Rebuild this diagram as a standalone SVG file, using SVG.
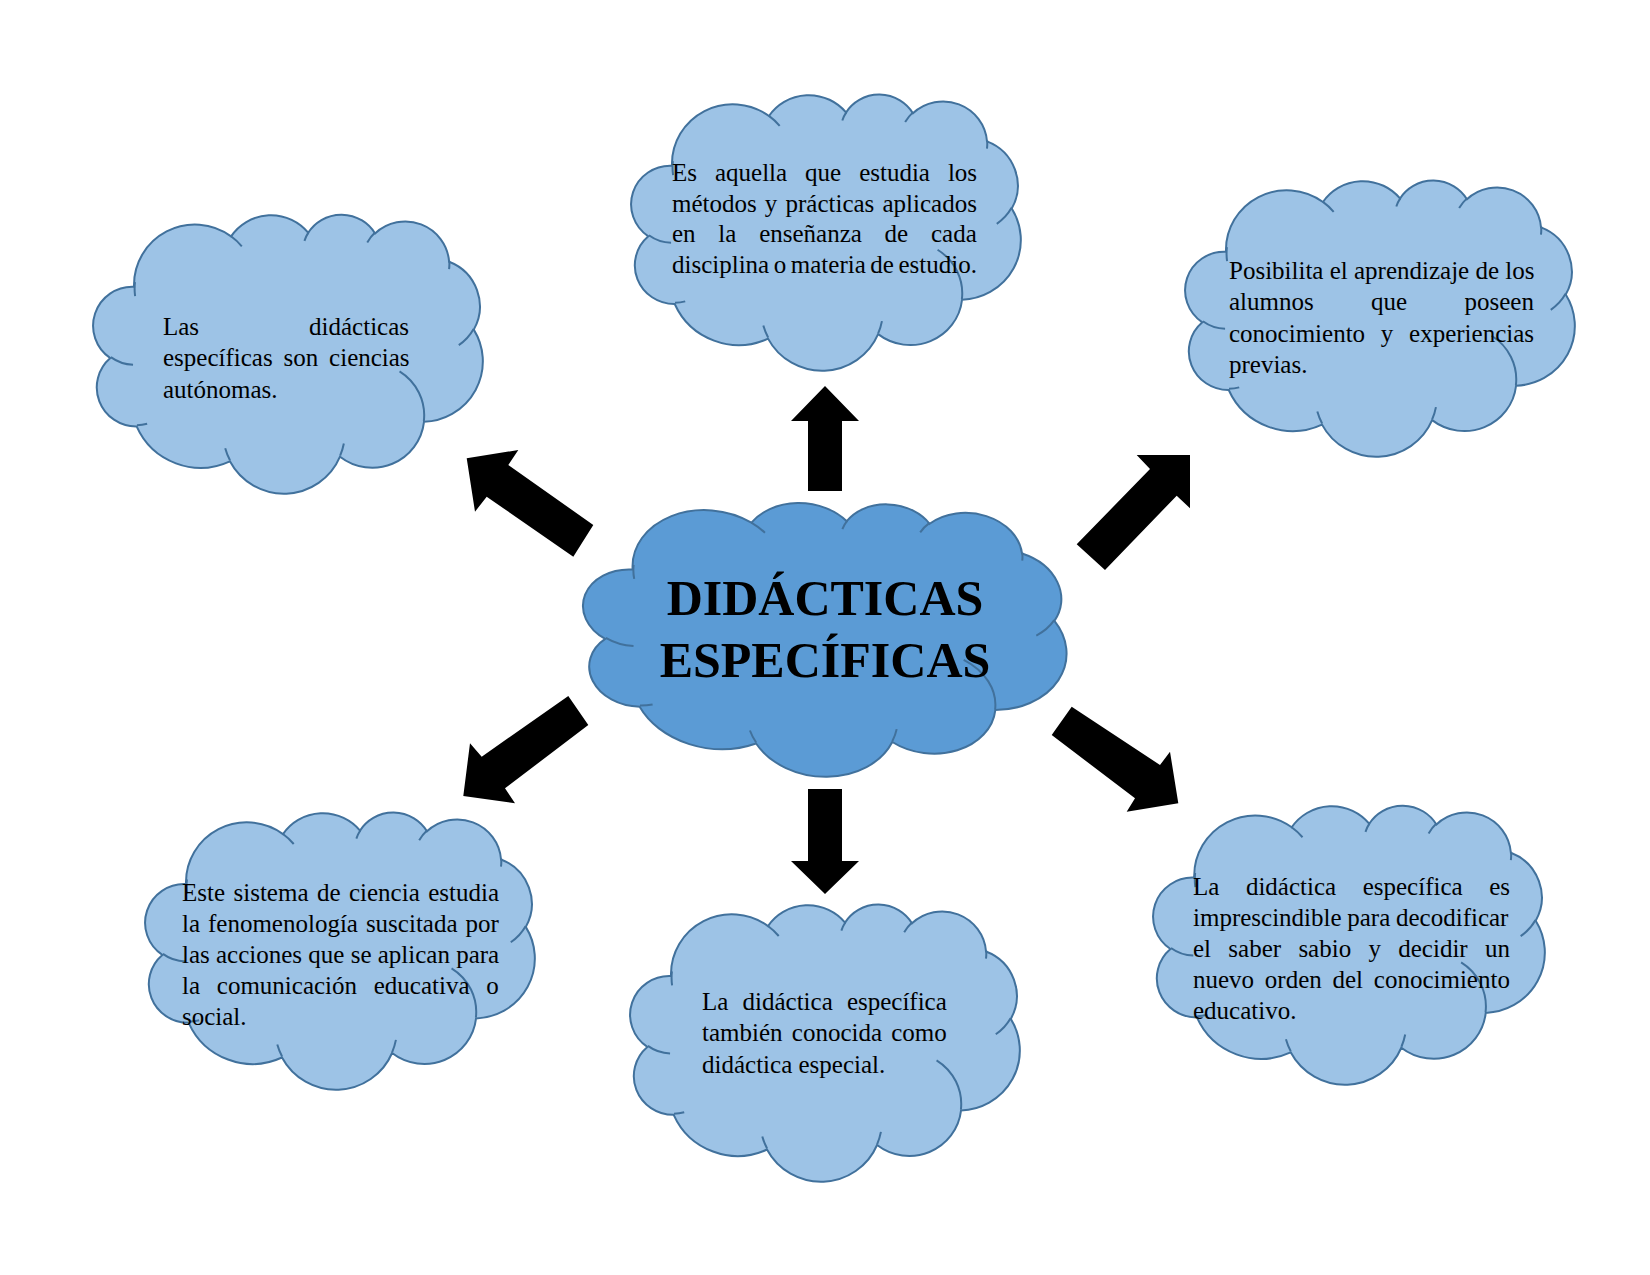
<svg xmlns="http://www.w3.org/2000/svg" width="1650" height="1275" viewBox="0 0 1650 1275">
<style>
.shape{stroke:#41719C;stroke-width:2;}
.outer{fill:#9DC3E6;}
.main{fill:#5B9BD5;}
.arcs{fill:none;stroke:#41719C;stroke-width:2;}
.txt{font-family:"Liberation Serif","Times New Roman",serif;font-size:25px;fill:#000;}
.title{font-family:"Liberation Serif","Times New Roman",serif;font-size:50px;font-weight:bold;fill:#000;text-anchor:middle;}
.arrow{fill:#000;}
</style>
<defs>
<path id="cloud" vector-effect="non-scaling-stroke" d="M90.3,332.6 A156.3,212.7 0 0 1 324.2,120.4 A123.4,168.2 0 0 1 519.8,79.4 A101.0,137.6 0 0 1 690.6,57.4 A112.4,152.7 0 0 1 887.0,129.1 A123.4,168.4 0 0 1 968.1,357.8 A156.8,213.4 0 0 1 865.9,699.1 A133.9,182.1 0 0 1 661.0,852.1 A156.3,213.3 0 0 1 381.5,908.8 A178.7,244.1 0 0 1 134.3,821.0 A100.9,137.0 0 0 1 48.9,591.3 A100.6,137.6 0 0 1 90.3,332.6 Z"/>
<path id="cloudArcs" vector-effect="non-scaling-stroke" fill="none" d="M108.6,605.9 A100.6,137.6 0 0 1 50.0,587.5 M160.4,807.9 A100.9,137.0 0 0 1 134.7,816.7 M381.4,904.9 A156.3,213.3 0 0 1 366.0,864.5 M667.3,804.4 A156.3,213.3 0 0 1 661.1,848.6 M790.0,531.3 A133.9,182.1 0 0 1 865.3,696.5 M967.5,355.4 A123.4,168.4 0 0 1 934.0,417.4 M887.1,125.6 A112.4,152.7 0 0 1 888.9,154.8 M673.1,91.5 A112.4,152.7 0 0 1 690.3,54.2 M512.5,109.3 A101.0,137.6 0 0 1 520.8,77.1 M324.1,120.2 A156.3,212.7 0 0 1 354.2,151.4 M95.5,365.5 A156.3,212.7 0 0 1 91.3,316.0"/>
</defs>
<rect width="1650" height="1275" fill="#FFFFFF"/>

<g id="connectors">
<polygon class="arrow" points="825,386 859,421 842,421 842,491 808,491 808,421 791,421"/>
<polygon class="arrow" points="825,894 859,861 842,861 842,789 808,789 808,861 791,861"/>
<polygon class="arrow" points="466.7,458.3 518.3,450 508.3,465 593.3,525 573.3,556.7 486.7,496.7 475,511.7"/>
<polygon class="arrow" points="1190,455 1190,508.3 1176.7,495.7 1105,570 1076.7,544.3 1150,469 1136.7,455"/>
<polygon class="arrow" points="463.3,796 470,743.3 481.7,756.7 568.3,696 588.3,725 505,788.3 515,803.3"/>
<polygon class="arrow" points="1178.3,803.3 1170,751.7 1160,765 1071.7,706.7 1051.7,735 1135,798.3 1126.7,811.7"/>
</g>

<g id="node-center">
<g transform="translate(825,636.5) rotate(6) scale(0.484,0.278) translate(-500,-500)"><use href="#cloud" class="shape main"/><use href="#cloudArcs" class="arcs"/></g>
<text class="title" x="825" y="614.5">DIDÁCTICAS</text>
<text class="title" x="825" y="676.5">ESPECÍFICAS</text>
</g>

<g id="node-top">
<g transform="translate(826,229.2) rotate(6) scale(0.39,0.281) translate(-500,-500)"><use href="#cloud" class="shape outer"/><use href="#cloudArcs" class="arcs"/></g>
<text class="txt" x="672" y="181" style="word-spacing:11.7px">Es aquella que estudia los</text>
<text class="txt" x="672" y="211.5" style="word-spacing:1.9px">métodos y prácticas aplicados</text>
<text class="txt" x="672" y="242" style="word-spacing:16.5px">en la enseñanza de cada</text>
<text class="txt" x="672" y="272.5" style="word-spacing:-1.7px">disciplina o materia de estudio.</text>
</g>

<g id="node-top-left">
<g transform="translate(288,350.7) rotate(6) scale(0.39,0.284) translate(-500,-500)"><use href="#cloud" class="shape outer"/><use href="#cloudArcs" class="arcs"/></g>
<text class="txt" x="163" y="335">Las</text>
<text class="txt" x="409" y="335" text-anchor="end">didácticas</text>
<text class="txt" x="163" y="366" style="word-spacing:4.6px">específicas son ciencias</text>
<text class="txt" x="163" y="397.5">autónomas.</text>
</g>

<g id="node-top-right">
<g transform="translate(1380,315.2) rotate(6) scale(0.39,0.281) translate(-500,-500)"><use href="#cloud" class="shape outer"/><use href="#cloudArcs" class="arcs"/></g>
<text class="txt" x="1229" y="278.7" style="word-spacing:0px">Posibilita el aprendizaje de los</text>
<text class="txt" x="1229" y="310.2" style="word-spacing:51.1px">alumnos que poseen</text>
<text class="txt" x="1229" y="341.7" style="word-spacing:9.5px">conocimiento y experiencias</text>
<text class="txt" x="1229" y="373.2">previas.</text>
</g>

<g id="node-bottom-left">
<g transform="translate(340,947.7) rotate(6) scale(0.39,0.282) translate(-500,-500)"><use href="#cloud" class="shape outer"/><use href="#cloudArcs" class="arcs"/></g>
<text class="txt" x="182" y="901.2" style="word-spacing:2.2px">Este sistema de ciencia estudia</text>
<text class="txt" x="182" y="932.2" style="word-spacing:1.7px">la fenomenología suscitada por</text>
<text class="txt" x="182" y="963.2" style="word-spacing:0px">las acciones que se aplican para</text>
<text class="txt" x="182" y="994.2" style="word-spacing:10.5px">la comunicación educativa o</text>
<text class="txt" x="182" y="1025.2">social.</text>
</g>

<g id="node-bottom-center">
<g transform="translate(825,1039.7) rotate(6) scale(0.39,0.282) translate(-500,-500)"><use href="#cloud" class="shape outer"/><use href="#cloudArcs" class="arcs"/></g>
<text class="txt" x="702" y="1009.5" style="word-spacing:7.9px">La didáctica específica</text>
<text class="txt" x="702" y="1041" style="word-spacing:3px">también conocida como</text>
<text class="txt" x="702" y="1072.5">didáctica especial.</text>
</g>

<g id="node-bottom-right">
<g transform="translate(1349,941.7) rotate(6) scale(0.392,0.284) translate(-500,-500)"><use href="#cloud" class="shape outer"/><use href="#cloudArcs" class="arcs"/></g>
<text class="txt" x="1193" y="895" style="word-spacing:20.3px">La didáctica específica es</text>
<text class="txt" x="1193" y="926" style="word-spacing:-0.55px">imprescindible para decodificar</text>
<text class="txt" x="1193" y="957" style="word-spacing:11.05px">el saber sabio y decidir un</text>
<text class="txt" x="1193" y="988" style="word-spacing:4.5px">nuevo orden del conocimiento</text>
<text class="txt" x="1193" y="1019">educativo.</text>
</g>
</svg>
